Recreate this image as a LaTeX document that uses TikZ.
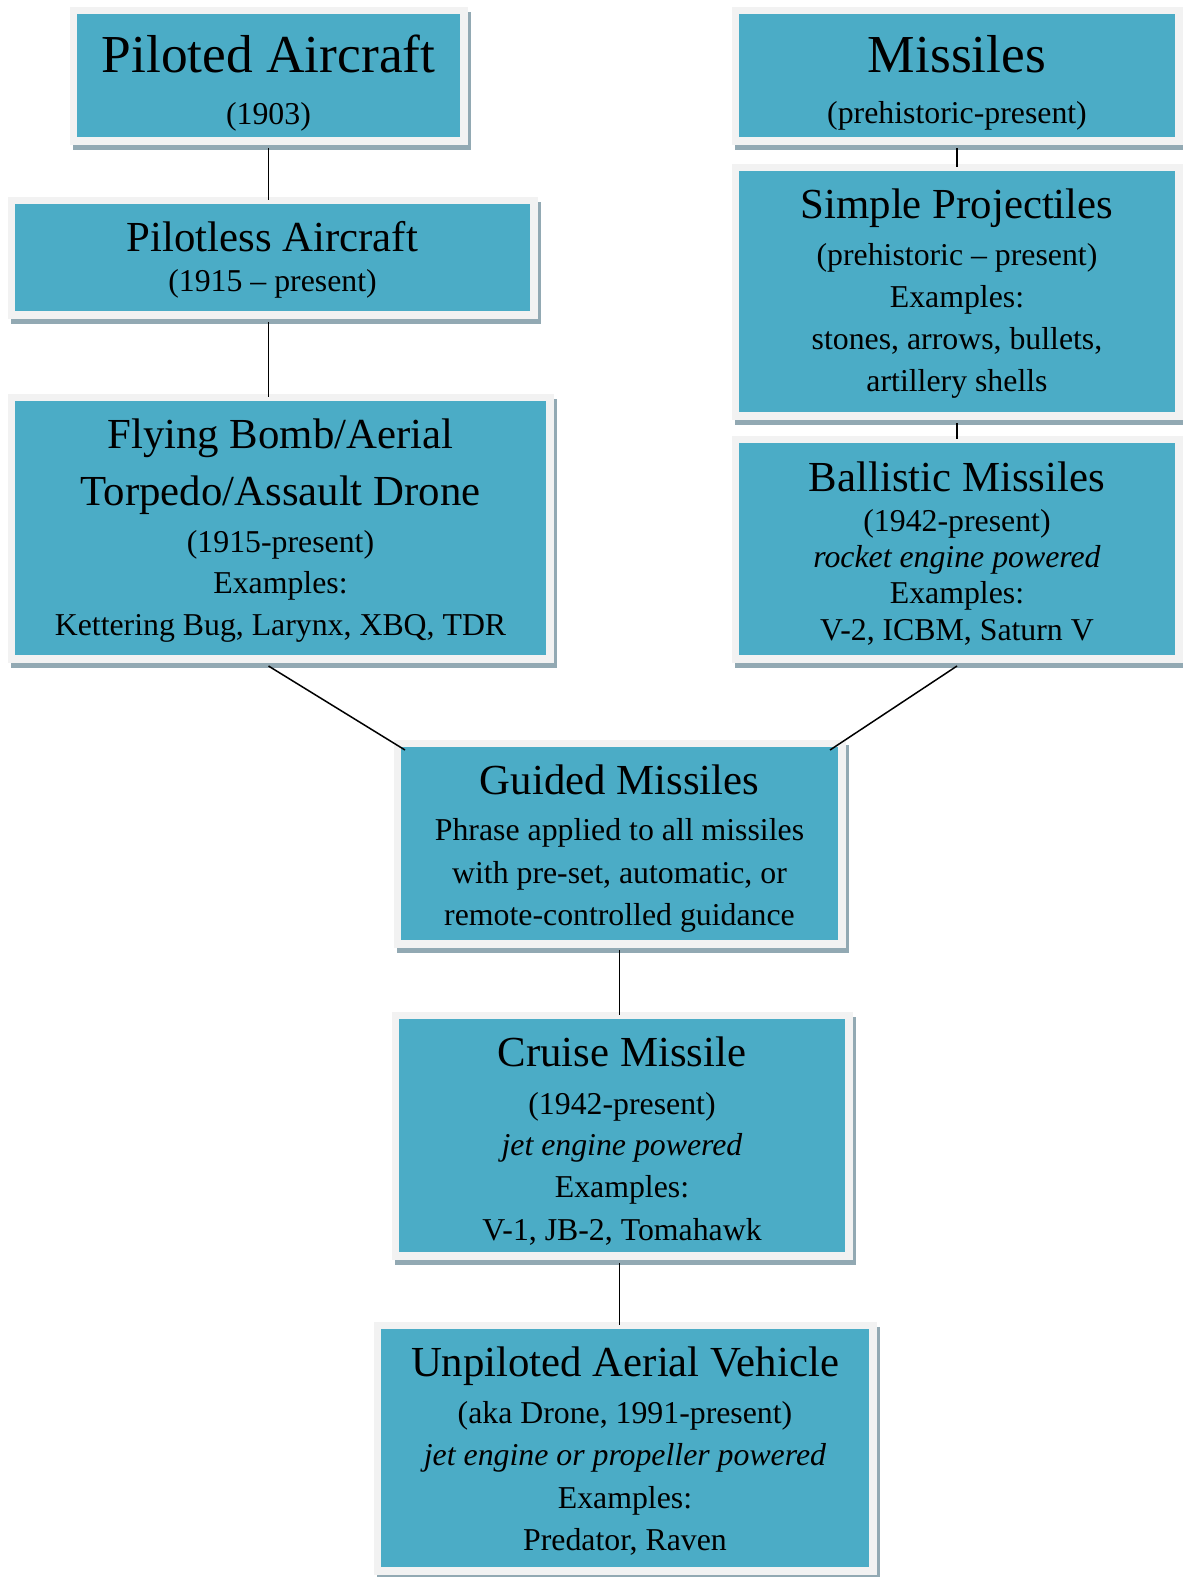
\documentclass[tikz,border=0pt]{standalone}
\usepackage{fontspec}
\setmainfont{Liberation Serif}
\usetikzlibrary{shadows,calc}
\definecolor{tealc}{RGB}{75,172,198}
\definecolor{framec}{RGB}{242,242,242}
\definecolor{shadowc}{RGB}{146,169,179}
\tikzset{
  flowbox/.style={rectangle, fill=tealc, inner sep=0pt, outer sep=0pt,
    general shadow={fill=shadowc, draw=shadowc, line width=15pt, shadow xshift=3pt, shadow yshift=-5pt},
    preaction={draw=framec, line width=15pt},
    align=flush center, font=\fontsize{31.8}{42}\selectfont},
  conn/.style={draw=black, line width=1.5pt},
}
\newcommand\topstrut[1]{\rule{0pt}{#1pt}}
\newcommand\botstrut[1]{\rule[-#1pt]{0pt}{#1pt}}
\newcommand\bigtitle[1]{{\fontsize{53.4}{53.4}\selectfont #1}}
\newcommand\midtitle[1]{{\fontsize{42.8}{42.8}\selectfont #1}}
\begin{document}
\begin{tikzpicture}[x=1pt,y=-1pt]
\useasboundingbox[fill=white] (0,0) rectangle (1183,1577);

\node[flowbox, minimum width=383pt, minimum height=123pt, text width=383pt] (pa) at (268.5,75.5)
  {\topstrut{58}\bigtitle{Piloted Aircraft}\\[10pt]
   (1903)\botstrut{13}};
\node[flowbox, minimum width=436pt, minimum height=123pt, text width=436pt] (mi) at (957,75.5)
  {\topstrut{58.5}\bigtitle{Missiles}\\[9pt]
   (prehistoric-present)\botstrut{13.5}};
\node[flowbox, minimum width=515pt, minimum height=107pt, text width=515pt] (pl) at (272.5,257.5)
  {\topstrut{47.7}\midtitle{Pilotless Aircraft}\\[-2pt]
   (1915 \textendash{} present)\botstrut{19.3}};
\node[flowbox, minimum width=436pt, minimum height=241pt, text width=436pt] (sp) at (957,291.5)
  {\topstrut{47.3}\midtitle{Simple Projectiles}\\[5.4pt]
   (prehistoric \textendash{} present)\\
   Examples:\\
   stones, arrows, bullets,\\
   artillery shells\botstrut{20.3}};
\node[flowbox, minimum width=531pt, minimum height=254pt, text width=531pt] (fb) at (280.5,528)
  {\topstrut{47.3}\midtitle{Flying Bomb/Aerial}\\[14.7pt]
   \midtitle{Torpedo/Assault Drone}\\[5.7pt]
   (1915-present)\\[-1pt]
   Examples:\\[-0.7pt]
   Kettering Bug, Larynx, XBQ, TDR\botstrut{20}};
\node[flowbox, minimum width=436pt, minimum height=212pt, text width=436pt] (bm) at (957,549)
  {\topstrut{48.7}\midtitle{Ballistic Missiles}\\[-2.7pt]
   (1942-present)\\[-5.3pt]
   \textit{rocket engine powered}\\[-6.4pt]
   Examples:\\[-4.6pt]
   V-2, ICBM, Saturn V\botstrut{14.3}};
\node[flowbox, minimum width=437pt, minimum height=193pt, text width=437pt] (gm) at (619.5,843.5)
  {\topstrut{47}\midtitle{Guided Missiles}\\[4.7pt]
   Phrase applied to all missiles\\[0.6pt]
   with pre-set, automatic, or\\[-0.3pt]
   remote-controlled guidance\botstrut{15}};
\node[flowbox, minimum width=446pt, minimum height=233pt, text width=446pt] (cm) at (622,1135.5)
  {\topstrut{47.7}\midtitle{Cruise Missile}\\[5.3pt]
   (1942-present)\\[-1pt]
   \textit{jet engine powered}\\[0.3pt]
   Examples:\\[0.7pt]
   V-1, JB-2, Tomahawk\botstrut{12}};
\node[flowbox, minimum width=488pt, minimum height=238pt, text width=488pt] (uv) at (625,1448)
  {\topstrut{47}\midtitle{Unpiloted Aerial Vehicle}\\[5.3pt]
   (aka Drone, 1991-present)\\[-0.3pt]
   \textit{jet engine or propeller powered}\\[1.3pt]
   Examples:\\[-0.3pt]
   Predator, Raven\botstrut{17}};

\draw[conn] ([yshift=-11pt]pa.south) -- ([yshift=4pt]pa.south |- pl.north);
\draw[conn] ([yshift=-11pt]pa.south |- pl.south) -- ([yshift=4pt]pa.south |- fb.north);
\draw[conn] ([yshift=-11pt]mi.south) -- ([yshift=4pt]mi.south |- sp.north);
\draw[conn] ([yshift=-11pt]sp.south) -- ([yshift=4pt]sp.south |- bm.north);
\draw[conn] ([xshift=-12pt,yshift=-11pt]fb.south) -- ([xshift=4pt,yshift=-3pt]gm.north west);
\draw[conn] ([yshift=-11pt]bm.south) -- ([xshift=-8pt,yshift=-3pt]gm.north east);
\draw[conn] ([yshift=-10pt]gm.south) -- ([yshift=4pt]gm.south |- cm.north);
\draw[conn] ([yshift=-11pt]gm.south |- cm.south) -- ([yshift=4pt]gm.south |- uv.north);
\end{tikzpicture}
\end{document}
